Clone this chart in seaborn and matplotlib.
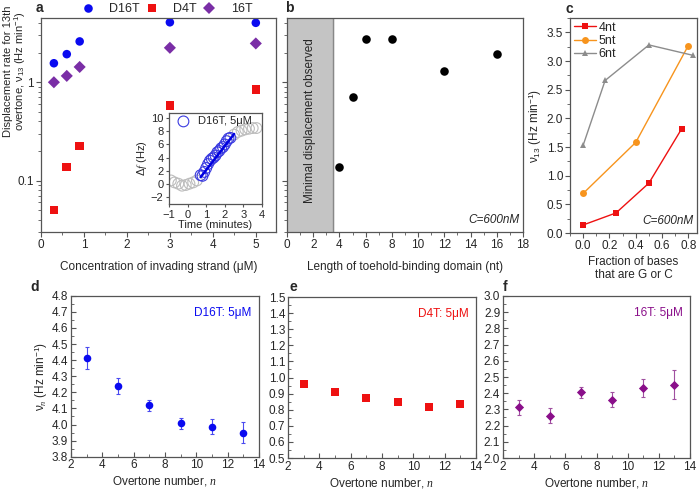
import numpy as np
import pandas as pd
import matplotlib
matplotlib.use("Agg")
import matplotlib.pyplot as plt
import matplotlib.ticker as mticker
import seaborn as sns

sns.set_style("ticks")
plt.rcParams['font.family'] = ['Liberation Sans', 'DejaVu Sans']
plt.rcParams['mathtext.fontset'] = 'custom'
plt.rcParams['mathtext.rm'] = 'Liberation Sans'
plt.rcParams['mathtext.it'] = 'Liberation Serif:italic'

# ---------------- data ----------------
# panel a
conc_uM = [0.3, 0.6, 0.9, 3, 5]
rate_D16T = [1.56, 1.93, 2.60, 4.07, 4.02]
rate_D4T = [0.050, 0.138, 0.224, 0.58, 0.84]
rate_16T = [1.00, 1.16, 1.43, 2.24, 2.48]

# inset of a
inset_t_pre = [-0.9, -0.7, -0.5, -0.3, -0.1, 0.1, 0.3, 0.5]
inset_df_pre = [0.5, 0.2, 0.0, -0.3, -0.2, 0.0, 0.2, 0.5]
inset_t_fit = [0.7, 0.8, 0.9, 1.0, 1.1, 1.2, 1.3, 1.4, 1.5, 1.6, 1.7, 1.8, 1.9, 2.0, 2.1, 2.2, 2.3]
inset_df_fit = [1.3, 1.2, 1.8, 2.4, 3.0, 3.5, 3.8, 4.0, 4.3, 4.8, 5.0, 5.4, 5.6, 6.0, 6.5, 6.9, 7.0]
inset_t_post = [2.5, 2.7, 2.9, 3.1, 3.3, 3.5, 3.7]
inset_df_post = [7.5, 7.9, 8.1, 8.3, 8.4, 8.5, 8.5]
fit_line_t = [0.7, 2.5]
fit_line_df = [1.0, 7.6]

# panel b
toehold_nt = [4, 5, 6, 8, 12, 16]
rate_toehold = [0.139, 0.70, 2.73, 2.73, 1.29, 1.93]
minimal_region_nt = [0, 3.5]

# panel c
gc_4nt = [0.0, 0.25, 0.5, 0.75]
v_4nt = [0.14, 0.35, 0.87, 1.82]
gc_5nt = [0.0, 0.4, 0.8]
v_5nt = [0.69, 1.58, 3.27]
gc_6nt = [0.0, 0.167, 0.5, 0.833]
v_6nt = [1.53, 2.66, 3.28, 3.10]

# panels d-f
overtone = [3, 5, 7, 9, 11, 13]
vn_D16T = [4.415, 4.239, 4.119, 4.007, 3.986, 3.949]
err_D16T = [0.068, 0.052, 0.033, 0.035, 0.046, 0.065]
vn_D4T = [0.958, 0.910, 0.871, 0.850, 0.815, 0.833]
vn_16T = [2.313, 2.261, 2.405, 2.360, 2.434, 2.453]
err_16T = [0.047, 0.045, 0.035, 0.045, 0.056, 0.090]

# ---------------- style ----------------
BLUE = '#0a0af0'
RED = '#ee1111'
PURPLE_A = '#7a2ea6'
PURPLE_F = '#8a0f8a'
ORANGE = '#f7941d'
GRAY = '#8c8c8c'
SPINE = '#555555'
TFS = 8.5
LFS = 8.5

fig = plt.figure(figsize=(7.0, 4.98), dpi=100)


def style_ax(ax, direction='out'):
    for s in ax.spines.values():
        s.set_visible(True)
        s.set_color(SPINE)
        s.set_linewidth(0.9)
    ax.tick_params(which='both', direction=direction, color=SPINE, labelsize=TFS, pad=1.5)
    ax.tick_params(which='major', length=3.5, width=0.8)
    ax.tick_params(which='minor', length=2, width=0.6)


def letter(x, y, s):
    fig.text(x / 700, 1 - y / 498, s, fontsize=10, fontweight='bold', ha='center', va='center')


# ---------------- panel a ----------------
ax_a = fig.add_axes([41 / 700, 1 - 232 / 498, 235 / 700, 214 / 498])
df_a = pd.DataFrame({
    'conc': conc_uM * 3,
    'rate': rate_D16T + rate_D4T + rate_16T,
    'strand': ['D16T'] * 5 + ['D4T'] * 5 + ['16T'] * 5,
})
sns.scatterplot(data=df_a, x='conc', y='rate', hue='strand', style='strand',
                palette={'D16T': BLUE, 'D4T': RED, '16T': PURPLE_A},
                markers={'D16T': 'o', 'D4T': 's', '16T': 'D'},
                s=38, linewidth=0, ax=ax_a, legend=True)
ax_a.set_yscale('log')
ax_a.set_xlim(0, 5.47)
ax_a.set_ylim(0.03, 4.5)
ax_a.xaxis.set_major_locator(mticker.MultipleLocator(1))
ax_a.xaxis.set_minor_locator(mticker.MultipleLocator(0.5))
ax_a.yaxis.set_major_locator(mticker.FixedLocator([0.1, 1]))
ax_a.yaxis.set_major_formatter(mticker.FixedFormatter(['0.1', '1']))
ax_a.yaxis.set_minor_locator(mticker.LogLocator(base=10, subs=np.arange(2, 10)))
ax_a.yaxis.set_minor_formatter(mticker.NullFormatter())
style_ax(ax_a)
ax_a.set_xlabel('Concentration of invading strand (\u03bcM)', fontsize=LFS, labelpad=7)
ax_a.set_ylabel('Displacement rate for 13th\novertone, \u03bd$_{13}$ (Hz min$^{-1}$)',
                fontsize=8, linespacing=1.0)
ax_a.yaxis.set_label_coords(-0.056, 0.75)
ax_a.legend(loc='center left', bbox_to_anchor=(0.172, 1.04), ncol=3, frameon=False,
            fontsize=9, handletextpad=1.2, columnspacing=0.5, borderaxespad=0,
            borderpad=0, handlelength=1.0, markerscale=1.0)
letter(39, 8, 'a')

# inset
ax_i = fig.add_axes([169 / 700, 1 - 204 / 498, 93 / 700, 91 / 498])
sns.scatterplot(x=inset_t_pre + inset_t_post, y=inset_df_pre + inset_df_post, ax=ax_i,
                s=60, facecolor='none', edgecolor='#bdbdbd', linewidth=0.8)
sns.scatterplot(x=inset_t_fit, y=inset_df_fit, ax=ax_i,
                s=60, facecolor='none', edgecolor='#3a3ae0', linewidth=0.8,
                label='D16T, 5\u03bcM')
sns.lineplot(x=fit_line_t, y=fit_line_df, ax=ax_i, color='#0000e0', lw=1.8)
ax_i.set_xlim(-1, 4)
ax_i.set_ylim(-3.1, 10.8)
ax_i.xaxis.set_major_locator(mticker.MultipleLocator(1))
ax_i.yaxis.set_major_locator(mticker.MultipleLocator(2))
style_ax(ax_i)
ax_i.tick_params(labelsize=8, length=2.5)
ax_i.set_xlabel('Time (minutes)', fontsize=8, labelpad=0)
ax_i.set_ylabel('\u0394$f$ (Hz)', fontsize=8, labelpad=1)
ax_i.legend(loc='upper left', frameon=False, fontsize=8, handletextpad=0.3,
            borderaxespad=0.1, borderpad=0.2)

# ---------------- panel b ----------------
ax_b = fig.add_axes([287 / 700, 1 - 232 / 498, 236 / 700, 214 / 498])
ax_b.axvspan(minimal_region_nt[0], minimal_region_nt[1], color='#c4c4c4', zorder=0)
ax_b.axvline(minimal_region_nt[1], color='#888888', lw=1.0, zorder=1)
sns.scatterplot(x=toehold_nt, y=rate_toehold, ax=ax_b, color='black', s=38, linewidth=0, zorder=3)
ax_b.set_yscale('log')
ax_b.set_xlim(0, 18)
ax_b.set_ylim(0.03, 4.5)
ax_b.xaxis.set_major_locator(mticker.MultipleLocator(2))
ax_b.xaxis.set_minor_locator(mticker.MultipleLocator(1))
ax_b.yaxis.set_major_locator(mticker.FixedLocator([0.1, 1]))
ax_b.yaxis.set_minor_locator(mticker.LogLocator(base=10, subs=np.arange(2, 10)))
ax_b.yaxis.set_major_formatter(mticker.NullFormatter())
ax_b.yaxis.set_minor_formatter(mticker.NullFormatter())
style_ax(ax_b)
ax_b.set_xlabel('Length of toehold-binding domain (nt)', fontsize=LFS, labelpad=7)
ax_b.text(1.75, 0.52, 'Minimal displacement observed', rotation=90, ha='center', va='center',
          fontsize=8.5, transform=ax_b.get_xaxis_transform())
ax_b.text(0.985, 0.03, 'C=600nM', ha='right', va='bottom', fontsize=8.5, style='italic',
          transform=ax_b.transAxes)
letter(289, 8, 'b')

# ---------------- panel c ----------------
ax_c = fig.add_axes([570 / 700, 1 - 233 / 498, 127 / 700, 215 / 498])
df_c = pd.DataFrame({
    'gc': gc_4nt + gc_5nt + gc_6nt,
    'v': v_4nt + v_5nt + v_6nt,
    'toehold': ['4nt'] * len(gc_4nt) + ['5nt'] * len(gc_5nt) + ['6nt'] * len(gc_6nt),
})
sns.lineplot(data=df_c, x='gc', y='v', hue='toehold', style='toehold',
             palette={'4nt': RED, '5nt': ORANGE, '6nt': GRAY},
             markers={'4nt': 's', '5nt': 'o', '6nt': '^'}, dashes=False,
             markersize=5, markeredgewidth=0, lw=1.0, ax=ax_c)
ax_c.set_xlim(-0.1, 0.866)
ax_c.set_ylim(0, 3.75)
ax_c.xaxis.set_major_locator(mticker.MultipleLocator(0.2))
ax_c.xaxis.set_minor_locator(mticker.MultipleLocator(0.1))
ax_c.yaxis.set_major_locator(mticker.MultipleLocator(0.5))
ax_c.yaxis.set_minor_locator(mticker.MultipleLocator(0.25))
ax_c.xaxis.set_major_formatter(mticker.FormatStrFormatter('%.1f'))
ax_c.yaxis.set_major_formatter(mticker.FormatStrFormatter('%.1f'))
style_ax(ax_c)
ax_c.set_xlabel('Fraction of bases\nthat are G or C', fontsize=LFS, labelpad=3, linespacing=1.1)
ax_c.set_ylabel('\u03bd$_{13}$ (Hz min$^{-1}$)', fontsize=LFS, labelpad=2)
ax_c.legend(loc='upper left', frameon=False, fontsize=9, handlelength=1.8, handletextpad=0.2,
            borderaxespad=0.2, borderpad=0.1, labelspacing=0.1, title=None)
ax_c.text(0.97, 0.03, 'C=600nM', ha='right', va='bottom', fontsize=8.5, style='italic',
          transform=ax_c.transAxes)
letter(569, 9, 'c')


# ---------------- panels d-f ----------------
def overtone_panel(rect, y, err, color, ecolor, marker, ylim, label, ms):
    ax = fig.add_axes(rect)
    if err is not None:
        ax.errorbar(overtone, y, yerr=err, fmt='none', ecolor=ecolor, elinewidth=0.8,
                    capsize=1.5, capthick=0.8, zorder=2)
    sns.scatterplot(x=overtone, y=y, ax=ax, color=color, marker=marker, s=ms, linewidth=0, zorder=3)
    ax.set_xlim(2, 14)
    ax.set_ylim(*ylim)
    ax.xaxis.set_major_locator(mticker.MultipleLocator(2))
    ax.xaxis.set_minor_locator(mticker.MultipleLocator(1))
    ax.yaxis.set_major_locator(mticker.MultipleLocator(0.1))
    ax.yaxis.set_minor_locator(mticker.MultipleLocator(0.05))
    ax.yaxis.set_major_formatter(mticker.FormatStrFormatter('%.1f'))
    style_ax(ax, direction='in')
    ax.tick_params(which='both', pad=2)
    ax.set_xlabel('Overtone number, $n$', fontsize=LFS, labelpad=2)
    ax.text(0.96, 0.93, label, color=color, ha='right', va='top', fontsize=8.5,
            transform=ax.transAxes)
    return ax


ax_d = overtone_panel([71 / 700, 1 - 456.7 / 498, 188 / 700, 161 / 498], vn_D16T, err_D16T,
                      BLUE, '#4a4af0', 'o', (3.8, 4.8), 'D16T: 5\u03bcM', 30)
ax_d.set_ylabel('\u03bd$_n$ (Hz min$^{-1}$)', fontsize=LFS, labelpad=1)
ax_e = overtone_panel([288 / 700, 1 - 458 / 498, 188 / 700, 161 / 498], vn_D4T, None,
                      RED, RED, 's', (0.5, 1.5), 'D4T: 5\u03bcM', 28)
ax_f = overtone_panel([503 / 700, 1 - 458 / 498, 187 / 700, 162 / 498], vn_16T, err_16T,
                      PURPLE_F, '#a050a0', 'D', (2.0, 3.0), '16T: 5\u03bcM', 22)
letter(35, 287, 'd')
letter(293, 287, 'e')
letter(505, 287, 'f')

fig.savefig('out.png', dpi=100)
